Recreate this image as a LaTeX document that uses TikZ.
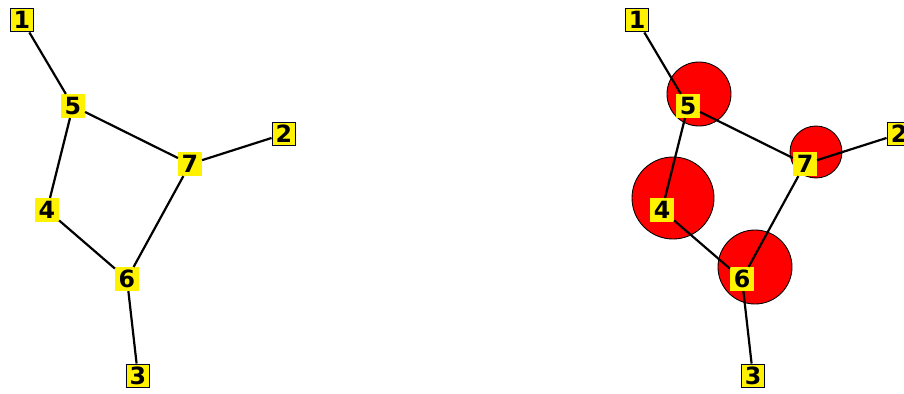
\documentclass[tikz,border=0pt]{standalone}
\usepackage{fontspec}
\setsansfont{DejaVu Sans}
\tikzset{
  nodo/.style={fill=yellow, inner sep=0pt, minimum width=0.47cm, minimum height=0.47cm,
    font=\sffamily\bfseries\fontsize{13.5}{13.5}\selectfont},
  hoja/.style={nodo, draw=black!85!blue, line width=0.8pt},
  arista/.style={line width=1.25pt},
  bola/.style={fill=red, draw=black, line width=0.5pt}
}
\begin{document}
\begin{tikzpicture}[x=0.02cm, y=-0.02cm]
  \clip (0,0) rectangle (904,393);
  % grafo sin pesos
  \node[hoja] (l1) at (22,20) {1};
  \node[hoja] (l2) at (284,134) {2};
  \node[hoja] (l3) at (138,376) {3};
  \node[nodo] (l4) at (47,210) {4};
  \node[nodo] (l5) at (73,106) {5};
  \node[nodo] (l6) at (127,279) {6};
  \node[nodo] (l7) at (190,164) {7};
  \draw[arista] (l1) -- (l5) (l5) -- (l7) (l5) -- (l4) (l4) -- (l6)
                (l6) -- (l7) (l7) -- (l2) (l6) -- (l3);
  % grafo con pesos: circulos rojos
  \draw[bola] (699,94) circle (32);
  \draw[bola] (816,152) circle (26);
  \draw[bola] (673,198) circle (41);
  \draw[bola] (755,267) circle (37);
  \node[hoja] (r1) at (637,20) {1};
  \node[hoja] (r2) at (899,134) {2};
  \node[hoja] (r3) at (753,376) {3};
  \node[nodo] (r4) at (662,210) {4};
  \node[nodo] (r5) at (688,106) {5};
  \node[nodo] (r6) at (742,279) {6};
  \node[nodo] (r7) at (805,164) {7};
  \draw[arista] (r1) -- (r5) (r5) -- (r7) (r5) -- (r4) (r4) -- (r6)
                (r6) -- (r7) (r7) -- (r2) (r6) -- (r3);
\end{tikzpicture}
\end{document}
